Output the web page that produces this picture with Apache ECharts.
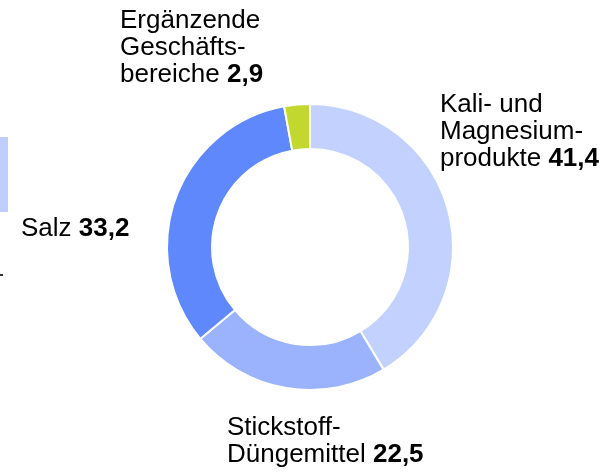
<!DOCTYPE html>
<html>
<head>
<meta charset="utf-8">
<script src="https://cdn.jsdelivr.net/npm/echarts@6/dist/echarts.min.js"></script>
<style>
  html, body { margin: 0; padding: 0; background: #fff; }
  #chart { width: 606px; height: 473px; }
</style>
</head>
<body>
<div id="chart"></div>
<script>
// Umsatzanteile nach Geschäftsbereich (%)
var names = ['Kali- und\nMagnesium-\nprodukte', 'Stickstoff-\nDüngemittel', 'Salz', 'Ergänzende\nGeschäfts-\nbereiche'];
var values = [41.4, 22.5, 33.2, 2.9];
var colors = ['#c3d1fe', '#9bb3fc', '#5f88fd', '#c2d82e'];

// label anchor (left, top) for each segment
var labelPos = [[440, 91], [227, 414], [21, 215], [120, 7]];

var data = names.map(function (n, i) {
    return { name: n, value: values[i], itemStyle: { color: colors[i] } };
});

var myChart = echarts.init(document.getElementById('chart'), null, { renderer: 'canvas' });

myChart.setOption({
    animation: false,
    backgroundColor: '#fff',
    textStyle: { fontFamily: 'Liberation Sans, Arial, sans-serif' },
    graphic: [
        { type: 'rect', shape: { x: 0, y: 137, width: 8, height: 75 }, style: { fill: '#bfcefe' } },
        { type: 'rect', shape: { x: 0, y: 274, width: 3, height: 2 }, style: { fill: '#333' } }
    ],
    series: [{
        type: 'pie',
        center: [310, 247],
        radius: [98, 143],
        startAngle: 90,
        clockwise: true,
        avoidLabelOverlap: false,
        itemStyle: { borderColor: '#fff', borderWidth: 2 },
        labelLine: { show: false },
        label: {
            show: true,
            position: 'outside',
            formatter: function (p) {
                var lines = p.name.split('\n');
                var v = p.value.toFixed(1).replace('.', ',');
                var out = lines.map(function (l, i) {
                    return '{n|' + l + (i === lines.length - 1 ? ' ' : '') + '}';
                });
                out[out.length - 1] += '{b|' + v + '}';
                return out.join('\n');
            },
            rich: {
                n: { fontSize: 26, lineHeight: 27, color: '#000', fontFamily: 'Liberation Sans' },
                b: { fontSize: 26, lineHeight: 27, color: '#000', fontWeight: 'bold', fontFamily: 'Liberation Sans' }
            }
        },
        labelLayout: function (params) {
            var p = labelPos[params.dataIndex];
            return { x: p[0], y: p[1], align: 'left', verticalAlign: 'top' };
        },
        data: data
    }]
});
</script>
</body>
</html>
